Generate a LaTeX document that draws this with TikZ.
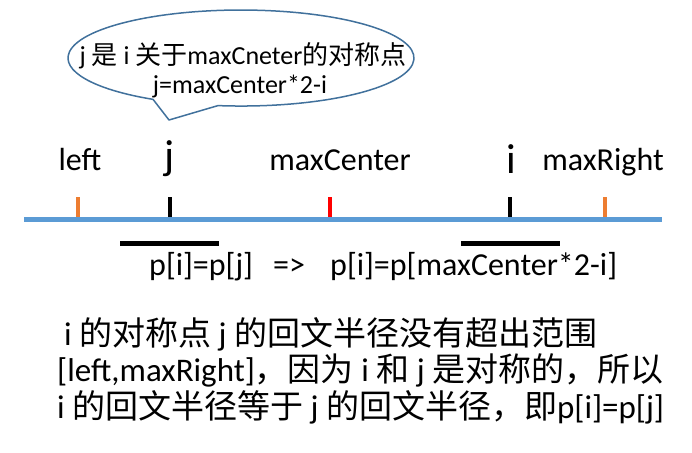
\documentclass[tikz,border=0pt]{standalone}
\usepackage{fontspec}
\setmainfont{Carlito}
\newfontfamily\cjk{Noto Sans CJK SC}
\newcommand\zh[1]{{\cjk #1}}
\definecolor{axisblue}{HTML}{5B9BD5}
\definecolor{tickorange}{HTML}{ED7D31}
\definecolor{tickred}{HTML}{FF0000}
\definecolor{calloutline}{HTML}{41719C}
\tikzset{
  lbl/.style={inner sep=0pt, anchor=base, font=\fontsize{32}{38}\selectfont},
  biglbl/.style={inner sep=0pt, anchor=base, font=\fontsize{42}{50}\selectfont},
  caltext/.style={inner sep=0pt, anchor=base, font=\fontsize{26}{31}\selectfont},
  bodytext/.style={inner sep=0pt, anchor=base west, font=\fontsize{33}{40}\selectfont},
  tickmark/.style={line width=4.5pt},
  bar/.style={line width=5pt, black},
  callout/.style={draw=calloutline, line width=1.5pt, fill=white, line join=round}
}
\begin{document}
\begin{tikzpicture}[x=1pt,y=1pt]
\useasboundingbox (0,0) rectangle (692,-452);
% callout
\draw[callout] (153,-99.3) -- (169,-120) -- (218,-105.6)
  arc[start angle=262.36, end angle=599.42, x radius=173, y radius=48] -- cycle;
\node[caltext] (c1) at (243,-64) {j \zh{是} i \zh{关于}maxCneter\zh{的对称点}};
\node[caltext] (c2) at (240,-93) {j=maxCenter*2-i};
% labels
\node[lbl] (left) at (80,-170) {left};
\node[biglbl] (j) at (170,-169) {j};
\node[lbl] (mc) at (340,-170) {maxCenter};
\node[biglbl] (i) at (511,-173) {i};
\node[lbl] (mr) at (603,-170) {maxRight};
% ticks
\draw[tickmark, tickorange] (78,-197) -- (78,-217);
\draw[tickmark, black] (170,-197) -- (170,-217);
\draw[tickmark, tickred] (330,-197) -- (330,-217);
\draw[tickmark, black] (510,-197) -- (510,-217);
\draw[tickmark, tickorange] (605,-197) -- (605,-217);
% axis
\draw[axisblue, line width=5pt] (24,-219) -- (662,-219);
% bars
\draw[bar] (120,-243) -- (219,-243);
\draw[bar] (461,-243) -- (560,-243);
% formula
\node[lbl, anchor=base west] (f1) at (149,-275) {p[i]=p[j]};
\node[lbl, anchor=base west] (f2) at (273,-275) {=>};
\node[lbl, anchor=base west] (f3) at (330,-275) {p[i]=p[maxCenter*2-i]};
% body text
\node[bodytext] (b1) at (57,-345) {\hspace*{7pt}i \zh{的对称点} j \zh{的回文半径没有超出范围}};
\node[bodytext] (b2) at (57,-381) {[left,maxRight]\zh{，因为} i \zh{和} j \zh{是对称的，所以}};
\node[bodytext] (b3) at (57,-418) {i \zh{的回文半径等于} j \zh{的回文半径，即}p[i]=p[j]};
\end{tikzpicture}
\end{document}
